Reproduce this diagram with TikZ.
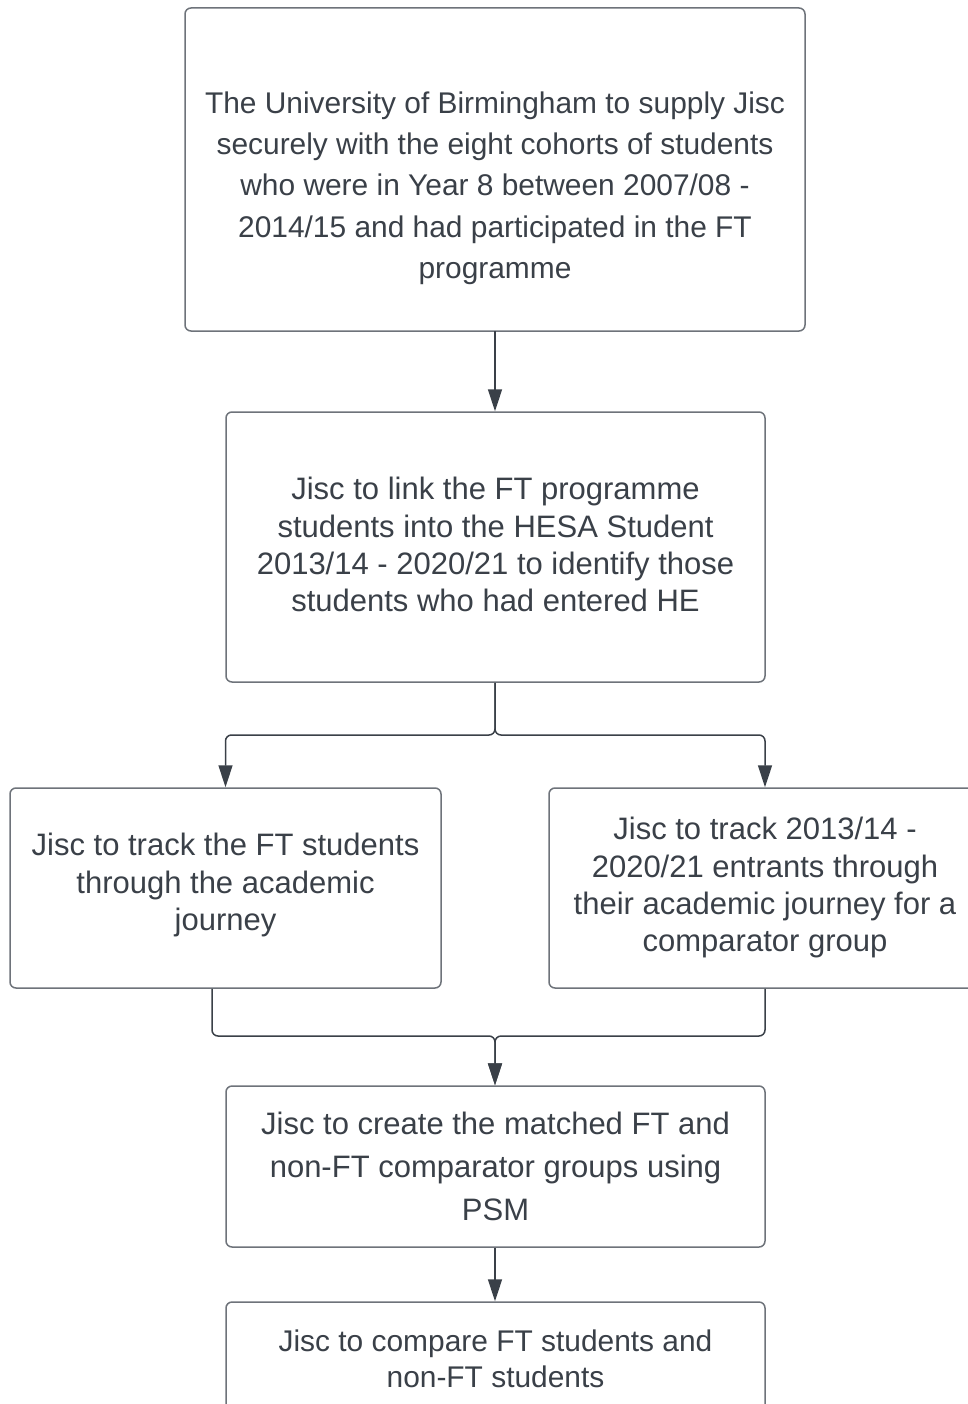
\documentclass[tikz,border=0pt]{standalone}
\usepackage{fontspec}
\setmainfont{Liberation Sans}
\usetikzlibrary{arrows.meta,calc}
\definecolor{txtc}{HTML}{3A4048}
\definecolor{bordc}{HTML}{6E737A}
\definecolor{arrc}{HTML}{3A4048}
\newcommand{\ls}{\rule[-0.2em]{0pt}{1.1em}}
\tikzset{
  box/.style={draw=bordc, line width=1.5pt, rounded corners=6pt, fill=white, inner sep=0pt},
  txt/.style={text=txtc, align=center, inner sep=0pt},
  conn/.style={draw=arrc, line width=1.5pt, rounded corners=6pt},
  arr/.style={conn, -{Triangle[length=22pt,width=14pt]}}
}
\begin{document}
\begin{tikzpicture}[x=1pt,y=-1pt]
\clip (0,0) rectangle (968,1404);
\fill[white] (0,0) rectangle (968,1404);
% boxes
\node[box, minimum width=620pt, minimum height=323pt] (b1) at (495,169.5) {};
\node[box, minimum width=539pt, minimum height=270pt] (b2) at (495.5,547) {};
\node[box, minimum width=431pt, minimum height=200pt] (b3) at (225.5,888) {};
\node[box, minimum width=432pt, minimum height=200pt] (b4) at (765,888) {};
\node[box, minimum width=539pt, minimum height=161pt] (b5) at (495.5,1166.5) {};
\node[box, minimum width=539pt, minimum height=116pt] (b6) at (495.5,1360) {};
% texts
\node[txt, font={\fontsize{29.9}{41.25}\selectfont}] (t1) at (495,185.5)
 {\ls The University of Birmingham to supply Jisc\\\ls securely with the eight cohorts of students\\\ls who were in Year 8 between 2007/08 -\\\ls 2014/15 and had participated in the FT\\\ls programme};
\node[txt, font={\fontsize{31}{37.3}\selectfont}] (t2) at (495.5,545)
 {\ls Jisc to link the FT programme\\\ls students into the HESA Student\\\ls 2013/14 - 2020/21 to identify those\\\ls students who had entered HE};
\node[txt, font={\fontsize{31}{37.5}\selectfont}] (t3) at (225.5,882.5)
 {\ls Jisc to track the FT students\\\ls through the academic\\\ls journey};
\node[txt, font={\fontsize{31}{37.3}\selectfont}] (t4) at (765,885)
 {\ls Jisc to track 2013/14 -\\\ls 2020/21 entrants through\\\ls their academic journey for a\\\ls comparator group};
\node[txt, font={\fontsize{31}{43}\selectfont}] (t5) at (495.5,1167)
 {\ls Jisc to create the matched FT and\\\ls non-FT comparator groups using\\\ls PSM};
\node[txt, font={\fontsize{29.9}{36}\selectfont}] (t6) at (495.5,1359)
 {\ls Jisc to compare FT students and\\\ls non-FT students};
% connectors
\coordinate (sp) at (495,735);
\coordinate (mg) at (495,1036);
\coordinate (b3out) at ($(b3.south)+(-13.5,0)$);
\draw[arr] (495,331) -- (b2.north -| 495,0);
\draw[arr] (b2.south -| 495,0) -- (sp) -| (b3.north);
\draw[arr] (b2.south -| 495,0) -- (sp) -| (b4.north);
\draw[arr] (b3out) |- (mg) -- (b5.north -| 495,0);
\draw[arr] (b4.south) |- (mg) -- (b5.north -| 495,0);
\draw[arr] (b5.south -| 495,0) -- (b6.north -| 495,0);
\end{tikzpicture}
\end{document}
